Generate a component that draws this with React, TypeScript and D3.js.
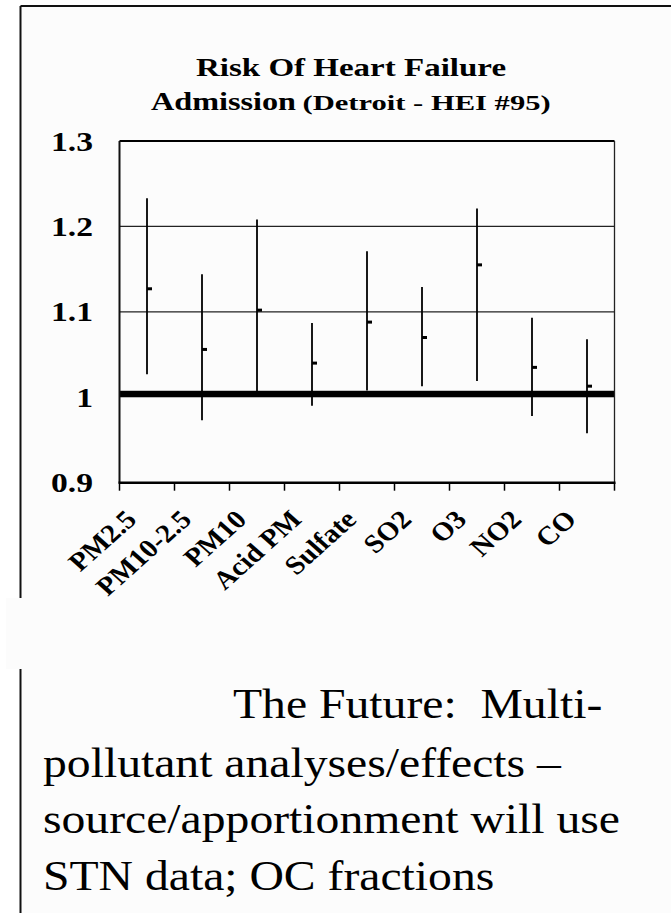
import React from 'react';
import * as d3 from 'd3';

// Relative risk of heart failure admission per pollutant (Detroit, HEI #95)
const pollutants = ['PM2.5', 'PM10-2.5', 'PM10', 'Acid PM', 'Sulfate', 'SO2', 'O3', 'NO2', 'CO'];
const upperCI = [1.233, 1.144, 1.208, 1.087, 1.171, 1.129, 1.221, 1.093, 1.068];
const lowerCI = [1.027, 0.973, 1.006, 0.99, 1.008, 1.013, 1.019, 0.978, 0.958];
const estimate = [1.127, 1.056, 1.102, 1.04, 1.088, 1.07, 1.155, 1.035, 1.013];

const yTickValues = [0.9, 1, 1.1, 1.2, 1.3];
const yTickLabels = ['0.9', '1', '1.1', '1.2', '1.3'];
const gridValues = [1.1, 1.2];
const referenceValue = 1;

const titleLine1 = 'Risk Of Heart Failure';
const titleLine2Main = 'Admission';
const titleLine2Sub = '(Detroit - HEI #95)';

const noteLines = [
  'The Future:  Multi-',
  'pollutant analyses/effects –',
  'source/apportionment will use',
  'STN data; OC fractions',
];

const W = 671;
const H = 913;
const plot = { left: 119.5, right: 614.5, top: 141, bottom: 482.7 };
const serif = '"Liberation Serif", "Times New Roman", Times, serif';

export default function App() {
  const x = d3
    .scaleBand<string>()
    .domain(pollutants)
    .range([plot.left, plot.right])
    .paddingInner(0)
    .paddingOuter(0);
  const y = d3.scaleLinear().domain([0.9, 1.3]).range([plot.bottom, plot.top]);

  const bw = x.bandwidth();
  const boundaries = pollutants.map((p) => x(p) as number).concat([plot.right]);

  const noteX = [233, 43, 43, 43];
  const noteY = [718, 777, 833, 890];

  return (
    <svg
      width={W}
      height={H}
      style={{ position: 'absolute', left: 0, top: 0, display: 'block', fontFamily: serif }}
    >
      <rect x={0} y={0} width={W} height={H} fill="#ffffff" />
      {/* slide panel */}
      <rect x={20.5} y={6} width={W - 20.5} height={H - 6} fill="#fcfcfc" />
      <line x1={20.5} x2={W} y1={6} y2={6} stroke="#111" strokeWidth={2} />
      <line x1={20.5} x2={20.5} y1={6} y2={H} stroke="#111" strokeWidth={2} />

      {/* title */}
      <text
        transform={`translate(351,75.7) scale(1.27,1)`}
        textAnchor="middle"
        fontWeight="bold"
        fontSize={26}
        fill="#000"
      >
        {titleLine1}
      </text>
      <text
        transform={`translate(151,110) scale(1.24,1)`}
        textAnchor="start"
        fontWeight="bold"
        fontSize={26}
        fill="#000"
      >
        {titleLine2Main}
      </text>
      <text
        transform={`translate(302.5,110) scale(1.39,1)`}
        textAnchor="start"
        fontWeight="bold"
        fontSize={22}
        fill="#000"
      >
        {titleLine2Sub}
      </text>

      {/* gridlines */}
      {gridValues.map((v) => (
        <line
          key={v}
          x1={plot.left}
          x2={plot.right}
          y1={y(v)}
          y2={y(v)}
          stroke="#222"
          strokeWidth={1.3}
        />
      ))}

      {/* reference level */}
      <rect
        x={plot.left}
        y={y(referenceValue) - 6.5}
        width={plot.right - plot.left}
        height={6.5}
        fill="#000"
      />

      {/* plot frame */}
      <line x1={plot.left} x2={plot.right} y1={plot.top} y2={plot.top} stroke="#000" strokeWidth={2} />
      <line x1={plot.right} x2={plot.right} y1={plot.top} y2={plot.bottom} stroke="#222" strokeWidth={1.3} />
      <line x1={plot.left} x2={plot.left} y1={plot.top} y2={plot.bottom} stroke="#111" strokeWidth={2} />
      <line x1={plot.left - 1} x2={plot.right + 1} y1={plot.bottom} y2={plot.bottom} stroke="#000" strokeWidth={2.5} />

      {/* category ticks */}
      {boundaries.map((bx, i) => (
        <line key={i} x1={bx} x2={bx} y1={plot.bottom} y2={plot.bottom + 8} stroke="#000" strokeWidth={1.5} />
      ))}

      {/* high-low bars with estimate marks */}
      {pollutants.map((p, i) => {
        const cx = (x(p) as number) + bw / 2;
        return (
          <g key={p}>
            <line x1={cx} x2={cx} y1={y(upperCI[i])} y2={y(lowerCI[i])} stroke="#000" strokeWidth={1.8} />
            <line x1={cx} x2={cx + 5} y1={y(estimate[i])} y2={y(estimate[i])} stroke="#000" strokeWidth={3} />
          </g>
        );
      })}

      {/* y tick labels */}
      {yTickValues.map((v, i) => (
        <text
          key={v}
          transform={`translate(93,${y(v)}) scale(1.2,1)`}
          textAnchor="end"
          dominantBaseline="central"
          fontWeight="bold"
          fontSize={28}
          fill="#000"
        >
          {yTickLabels[i]}
        </text>
      ))}

      {/* category labels */}
      {pollutants.map((p) => {
        const cx = (x(p) as number) + bw / 2;
        return (
          <text
            key={p}
            transform={`translate(${cx - 9},521) scale(1.12,1) rotate(-45)`}
            textAnchor="end"
            fontWeight="bold"
            fontSize={26}
            fill="#000"
          >
            {p}
          </text>
        );
      })}

      {/* panel covering the lower labels */}
      <rect x={6} y={598} width={W - 6} height={71} fill="#fcfcfc" />

      {/* note text */}
      {noteLines.map((line, i) => (
        <text
          key={i}
          transform={`translate(${noteX[i]},${noteY[i]}) scale(1.135,1)`}
          fontSize={42}
          fill="#000"
          style={{ whiteSpace: 'pre' }}
        >
          {line}
        </text>
      ))}
    </svg>
  );
}
